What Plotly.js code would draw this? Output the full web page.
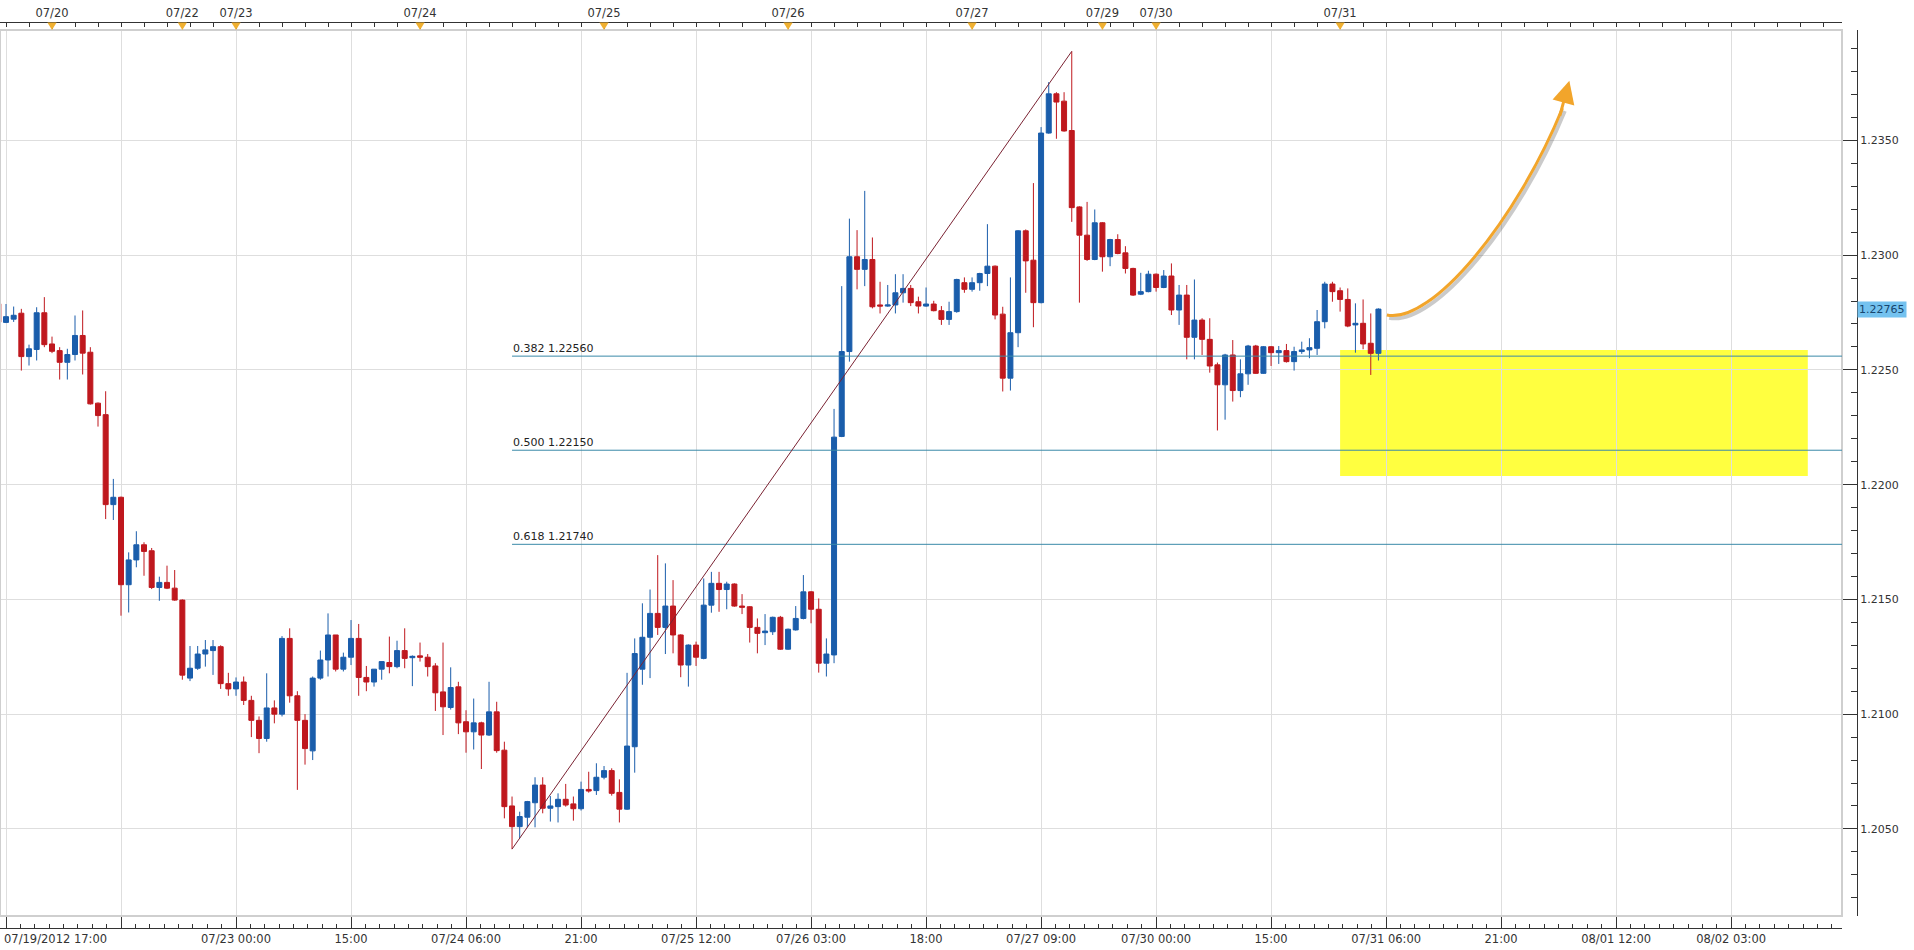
<!DOCTYPE html>
<html><head><meta charset="utf-8">
<script src="https://cdn.plot.ly/plotly-3.0.1.min.js"></script>
<style>html,body{margin:0;padding:0;background:#fff;}#chart{width:1914px;height:950px;}</style>
</head><body><div id="chart"></div>
<script>
// ---- data: hourly EUR/USD candles, index 0 = first full candle (07/19 18:00), weekends removed ----
const firstIndex = -1;
const open = [
1.22788,1.22707,1.22721,1.22747,1.22558,1.22589,1.22749,1.22613,1.22584,1.22533,
1.22567,1.22650,1.22577,1.22355,1.22305,1.21913,1.21945,1.21564,1.21672,1.21738,
1.21712,1.21552,1.21574,1.21549,1.21497,1.21157,1.21200,1.21262,1.21277,1.21294,
1.21133,1.21110,1.21140,1.21060,1.20973,1.20894,1.21027,1.21000,1.21330,1.21080,
1.20973,1.20840,1.21157,1.21236,1.21345,1.21196,1.21248,1.21330,1.21160,1.21140,
1.21196,1.21225,1.21207,1.21277,1.21246,1.21254,1.21248,1.21210,1.21097,1.21029,
1.21119,1.20967,1.20923,1.20962,1.20909,1.21010,1.20843,1.20600,1.20510,1.20551,
1.20614,1.20691,1.20590,1.20597,1.20629,1.20609,1.20588,1.20672,1.20667,1.20725,
1.20754,1.20659,1.20586,1.20858,1.21196,1.21335,1.21439,1.21378,1.21471,1.21345,
1.21214,1.21301,1.21243,1.21475,1.21570,1.21543,1.21567,1.21471,1.21468,1.21378,
1.21355,1.21359,1.21422,1.21283,1.21367,1.21417,1.21533,1.21457,1.21222,1.21258,
1.22210,1.22580,1.22993,1.22938,1.22981,1.22783,1.22778,1.22783,1.22836,1.22855,
1.22797,1.22778,1.22787,1.22758,1.22720,1.22754,1.22880,1.22851,1.22880,1.22920,
1.22952,1.22743,1.22464,1.22662,1.23106,1.22978,1.22793,1.23532,1.23703,1.23671,
1.23543,1.23210,1.23087,1.22981,1.23141,1.22993,1.23068,1.23010,1.22942,1.22830,
1.22841,1.22917,1.22859,1.22909,1.22761,1.22826,1.22642,1.22717,1.22633,1.22522,
1.22435,1.22565,1.22410,1.22483,1.22604,1.22485,1.22601,1.22575,1.22584,1.22536,
1.22580,1.22587,1.22594,1.22710,1.22874,1.22845,1.22807,1.22696,1.22703,1.22616,
1.22572];
const high = [
1.22800,1.22787,1.22776,1.22766,1.22610,1.22773,1.22817,1.22645,1.22599,1.22592,
1.22737,1.22759,1.22599,1.22358,1.22407,1.22025,1.21948,1.21705,1.21797,1.21749,
1.21724,1.21599,1.21647,1.21628,1.21500,1.21297,1.21297,1.21323,1.21323,1.21300,
1.21180,1.21160,1.21164,1.21080,1.20990,1.21178,1.21060,1.21340,1.21374,1.21100,
1.21000,1.21164,1.21277,1.21439,1.21345,1.21268,1.21410,1.21393,1.21210,1.21196,
1.21229,1.21338,1.21320,1.21374,1.21256,1.21312,1.21262,1.21222,1.21312,1.21204,
1.21141,1.21017,1.21068,1.20967,1.21141,1.21054,1.20880,1.20641,1.20575,1.20622,
1.20725,1.20725,1.20643,1.20655,1.20696,1.20641,1.20706,1.20749,1.20786,1.20774,
1.20764,1.20716,1.21180,1.21330,1.21483,1.21543,1.21693,1.21657,1.21584,1.21348,
1.21304,1.21316,1.21591,1.21620,1.21620,1.21577,1.21570,1.21523,1.21471,1.21417,
1.21436,1.21425,1.21428,1.21373,1.21471,1.21606,1.21536,1.21504,1.21330,1.22330,
1.22865,1.23159,1.23109,1.23280,1.23077,1.22884,1.22870,1.22917,1.22917,1.22870,
1.22819,1.22859,1.22801,1.22778,1.22797,1.22897,1.22903,1.22903,1.22923,1.23135,
1.22955,1.22775,1.22903,1.23109,1.23112,1.23314,1.23558,1.23754,1.23710,1.23710,
1.23888,1.23213,1.23232,1.23199,1.23144,1.23071,1.23091,1.23039,1.22945,1.22923,
1.22932,1.22920,1.22935,1.22964,1.22870,1.22870,1.22894,1.22725,1.22725,1.22532,
1.22570,1.22630,1.22546,1.22609,1.22609,1.22604,1.22604,1.22604,1.22613,1.22601,
1.22623,1.22638,1.22761,1.22884,1.22884,1.22859,1.22855,1.22790,1.22807,1.22746,
1.22768];
const low = [
1.22700,1.22704,1.22709,1.22497,1.22519,1.22541,1.22599,1.22573,1.22458,1.22458,
1.22541,1.22480,1.22349,1.22253,1.21850,1.21846,1.21429,1.21443,1.21640,1.21603,
1.21545,1.21494,1.21545,1.21494,1.21150,1.21144,1.21193,1.21207,1.21171,1.21110,
1.21080,1.21080,1.21040,1.20900,1.20830,1.20880,1.20960,1.20990,1.21050,1.20670,
1.20780,1.20800,1.21150,1.21164,1.21186,1.21186,1.21214,1.21080,1.21100,1.21120,
1.21150,1.21178,1.21200,1.21200,1.21122,1.21229,1.21164,1.21014,1.20909,1.21020,
1.20913,1.20832,1.20846,1.20761,1.20905,1.20832,1.20546,1.20412,1.20459,1.20507,
1.20507,1.20568,1.20532,1.20528,1.20597,1.20536,1.20580,1.20658,1.20648,1.20716,
1.20645,1.20528,1.20583,1.20745,1.21128,1.21157,1.21345,1.21262,1.21265,1.21161,
1.21120,1.21210,1.21239,1.21442,1.21446,1.21457,1.21468,1.21436,1.21312,1.21265,
1.21301,1.21345,1.21280,1.21280,1.21364,1.21413,1.21396,1.21181,1.21164,1.21222,
1.22207,1.22536,1.22851,1.22865,1.22768,1.22746,1.22775,1.22746,1.22793,1.22778,
1.22746,1.22775,1.22755,1.22696,1.22696,1.22749,1.22836,1.22841,1.22845,1.22865,
1.22720,1.22406,1.22410,1.22599,1.22836,1.22686,1.22790,1.23529,1.23507,1.23538,
1.23145,1.22793,1.22975,1.22978,1.22928,1.22952,1.23004,1.22920,1.22822,1.22826,
1.22838,1.22841,1.22856,1.22739,1.22696,1.22546,1.22546,1.22565,1.22488,1.22236,
1.22283,1.22362,1.22381,1.22435,1.22483,1.22483,1.22517,1.22526,1.22532,1.22497,
1.22570,1.22551,1.22565,1.22681,1.22797,1.22754,1.22686,1.22575,1.22590,1.22478,
1.22541];
const close = [
1.22708,1.22732,1.22738,1.22558,1.22592,1.22749,1.22610,1.22581,1.22533,1.22567,
1.22650,1.22573,1.22352,1.22301,1.21913,1.21945,1.21564,1.21672,1.21738,1.21709,
1.21552,1.21574,1.21549,1.21497,1.21170,1.21200,1.21262,1.21280,1.21294,1.21133,
1.21110,1.21140,1.21060,1.20973,1.20894,1.21027,1.21000,1.21330,1.21080,1.20973,
1.20850,1.21157,1.21236,1.21345,1.21196,1.21248,1.21330,1.21160,1.21140,1.21196,
1.21229,1.21207,1.21277,1.21243,1.21252,1.21248,1.21207,1.21093,1.21032,1.21116,
1.20962,1.20923,1.20962,1.20909,1.21010,1.20841,1.20597,1.20510,1.20554,1.20619,
1.20691,1.20590,1.20600,1.20629,1.20604,1.20588,1.20672,1.20665,1.20725,1.20754,
1.20655,1.20586,1.20861,1.21264,1.21335,1.21439,1.21378,1.21471,1.21345,1.21214,
1.21301,1.21248,1.21475,1.21570,1.21543,1.21567,1.21471,1.21466,1.21378,1.21352,
1.21362,1.21422,1.21283,1.21370,1.21417,1.21533,1.21457,1.21222,1.21262,1.22207,
1.22580,1.22993,1.22938,1.22981,1.22775,1.22778,1.22783,1.22836,1.22855,1.22793,
1.22778,1.22787,1.22758,1.22720,1.22754,1.22894,1.22851,1.22880,1.22920,1.22952,
1.22739,1.22464,1.22662,1.23106,1.22975,1.22793,1.23532,1.23703,1.23667,1.23541,
1.23207,1.23087,1.22981,1.23141,1.22993,1.23068,1.23007,1.22942,1.22826,1.22841,
1.22917,1.22859,1.22909,1.22761,1.22826,1.22642,1.22717,1.22633,1.22517,1.22435,
1.22565,1.22410,1.22483,1.22604,1.22485,1.22601,1.22575,1.22584,1.22536,1.22580,
1.22587,1.22597,1.22710,1.22874,1.22841,1.22807,1.22691,1.22703,1.22613,1.22572,
1.22765];

// bottom time axis (every 15 trading hours)
const bottomTickIdx  = [0,15,30,45,60,75,90,105,120,135,150,165,180,195,210,225];
const bottomTickText = ['','','07/23 00:00','15:00','07/24 06:00','21:00','07/25 12:00','07/26 03:00','18:00','07/27 09:00','07/30 00:00','15:00','07/31 06:00','21:00','08/01 12:00','08/02 03:00'];
const firstTickLabel = '07/19/2012 17:00';
// top day markers
const dayIdx  = [6,23,30,54,78,102,126,143,150,174];
const dayText = ['07/20','07/22','07/23','07/24','07/25','07/26','07/27','07/29','07/30','07/31'];
// price axis
const yTickVals = [1.2050,1.2100,1.2150,1.2200,1.2250,1.2300,1.2350];
// fibonacci retracement
const swingLow  = {idx: 66,  price: 1.20412};
const swingHigh = {idx: 139, price: 1.23888};
const fibRatios = [0.382, 0.500, 0.618];
const fibLevels = [1.22560, 1.22150, 1.21740];
// support zone and projected arrow
const zone = {from: 174, to: 235, top: 1.22587, bottom: 1.22038};
const arrowPts = {start:[180.1,1.22739], c1:[186,1.2270], c2:[197,1.2315], end:[203.0,1.2364], tail:[202.6,1.2360], head:[203.9,1.2376]};

// ---- geometry ----
const xRange = [-0.7826, 239.46];
const yRange = [1.201205, 1.23981];
const xDomain = [0, 0.99192];
const yDomain = [0.013245, 0.99117];
const RED = '#bf181e', BLUE = '#1a5dab';

const xIdx = open.map((_, i) => firstIndex + i);

const traces = [{
  type: 'candlestick', x: xIdx, open: open, high: high, low: low, close: close,
  xaxis: 'x', yaxis: 'y',
  increasing: {line: {color: BLUE, width: 1}, fillcolor: BLUE},
  decreasing: {line: {color: RED, width: 1}, fillcolor: RED},
  whiskerwidth: 0, hoverinfo: 'skip', showlegend: false
}, {
  type: 'scatter', mode: 'markers', x: [dayIdx[0]], y: [yRange[0]], xaxis: 'x2', yaxis: 'y',
  marker: {opacity: 0, size: 1}, hoverinfo: 'skip', showlegend: false
}];

const shapes = [];
shapes.push({type:'rect', xref:'x', yref:'y', x0: zone.from, x1: zone.to, y0: zone.bottom, y1: zone.top,
  fillcolor:'#ffff40', line:{width:0}, layer:'below'});
shapes.push({type:'rect', xref:'paper', yref:'paper', x0: xDomain[0], x1: xDomain[1], y0: yDomain[0], y1: yDomain[1],
  line:{color:'#cfcfcf', width:2}, fillcolor:'rgba(0,0,0,0)', layer:'above'});
fibLevels.forEach(lv => shapes.push({type:'line', xref:'x', yref:'y', x0: swingLow.idx, x1: xRange[1], y0: lv, y1: lv,
  line:{color:'#3a8aa8', width:1}, layer:'above'}));
shapes.push({type:'line', xref:'x', yref:'y', x0: swingLow.idx, y0: swingLow.price, x1: swingHigh.idx, y1: swingHigh.price,
  line:{color:'#7a2232', width:1}, layer:'above'});
const p = (a) => a[0] + ',' + a[1];
const shift = (a) => [a[0] + 0.3, a[1] - 0.00012];
shapes.push({type:'path', xref:'x', yref:'y', layer:'above',
  path: 'M' + p(shift(arrowPts.start)) + ' C' + p(shift(arrowPts.c1)) + ' ' + p(shift(arrowPts.c2)) + ' ' + p(shift(arrowPts.end)),
  line:{color:'rgba(80,80,80,0.3)', width:4}});
shapes.push({type:'path', xref:'x', yref:'y', layer:'above',
  path: 'M' + p(arrowPts.start) + ' C' + p(arrowPts.c1) + ' ' + p(arrowPts.c2) + ' ' + p(arrowPts.end),
  line:{color:'#f2a52b', width:3}});
dayIdx.forEach(d => shapes.push({type:'path', xref:'x', yref:'paper', layer:'above',
  path: 'M' + (d-0.6) + ',0.9995 L' + (d+0.6) + ',0.9995 L' + d + ',0.9912 Z',
  fillcolor:'#f0b030', line:{width:0}}));

const annotations = [];
annotations.push({xref:'paper', yref:'paper', x: 0.0013, y: 0, xanchor:'left', yanchor:'top', yshift:-2,
  text: firstTickLabel, showarrow:false, font:{size:11.5, color:'#333'}});
fibRatios.forEach((r, i) => annotations.push({xref:'x', yref:'y', x: swingLow.idx, y: fibLevels[i],
  xanchor:'left', yanchor:'bottom', text: r.toFixed(3) + ' ' + fibLevels[i].toFixed(5), showarrow:false,
  font:{size:11, color:'#222'}, borderpad:0}));
annotations.push({xref:'paper', yref:'y', x: 1, y: close[close.length-1], xanchor:'left', yanchor:'middle',
  text: close[close.length-1].toFixed(5), showarrow:false, bgcolor:'#74c2ef', borderpad:1,
  font:{size:11, color:'#17466e'}});
annotations.push({xref:'x', yref:'y', axref:'x', ayref:'y', x: arrowPts.head[0], y: arrowPts.head[1],
  ax: arrowPts.tail[0], ay: arrowPts.tail[1], text:'', showarrow:true, arrowhead:2, arrowsize:1.5,
  arrowwidth:3, arrowcolor:'#f2a52b'});

const axisFont = {family:'DejaVu Sans, Verdana, sans-serif', size:11.5, color:'#333'};
const layout = {
  width: 1914, height: 950,
  margin: {l:0, r:57, t:22, b:22, pad:0},
  paper_bgcolor:'#ffffff', plot_bgcolor:'#ffffff',
  showlegend:false, boxgap:0.35, boxgroupgap:0,
  font:{family:'DejaVu Sans, Verdana, sans-serif', size:11, color:'#333'},
  xaxis: {domain: xDomain, anchor:'free', position:0, range: xRange, tickmode:'array',
    tickvals: bottomTickIdx, ticktext: bottomTickText, ticks:'inside', ticklen:12, tickwidth:1, tickcolor:'#333',
    showline:true, linecolor:'#333', linewidth:1, showgrid:true, gridcolor:'#dedede', gridwidth:1,
    zeroline:false, rangeslider:{visible:false}, tickfont: axisFont, fixedrange:true,
    minor:{tickmode:'linear', tick0:0, dtick:1.875, ticks:'inside', ticklen:4, tickcolor:'#333', showgrid:false}},
  xaxis2: {overlaying:'x', matches:'x', anchor:'free', position:1, side:'top', tickmode:'array',
    tickvals: dayIdx, ticktext: dayText, ticks:'inside', ticklen:7, tickcolor:'#333',
    showline:true, linecolor:'#333', showgrid:false, zeroline:false, tickfont: axisFont,
    minor:{tickmode:'linear', tick0:0, dtick:3, ticks:'inside', ticklen:4, tickcolor:'#333', showgrid:false}},
  yaxis: {domain: yDomain, anchor:'free', position:1, side:'right', range: yRange, tickmode:'array',
    tickvals: yTickVals, tickformat:'.4f', ticks:'inside', ticklen:15, tickcolor:'#333',
    showline:true, linecolor:'#333', showgrid:true, gridcolor:'#dedede', zeroline:false, fixedrange:true,
    tickfont:{family:'DejaVu Sans, Verdana, sans-serif', size:11, color:'#333'},
    minor:{tickmode:'linear', tick0:1.2, dtick:0.001, ticks:'inside', ticklen:6, tickcolor:'#333', showgrid:false}},
  shapes: shapes, annotations: annotations
};
Plotly.newPlot('chart', traces, layout, {displayModeBar:false, staticPlot:true});
</script></body></html>
